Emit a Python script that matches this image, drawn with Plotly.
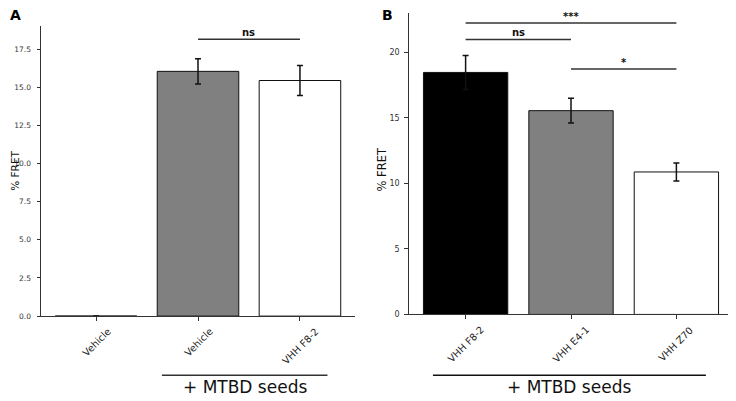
import plotly.graph_objects as go

# Panel A data
a_labels = ["Vehicle", "Vehicle", "VHH F8-2"]
a_vals = [0.0, 16.05, 15.45]
a_errs = [0.0, 0.82, 0.99]
a_colors = ["white", "#808080", "white"]
a_ticks = [0.0, 2.5, 5.0, 7.5, 10.0, 12.5, 15.0, 17.5]

# Panel B data
b_cats = ["VHH F8-2", "VHH E4-1", "VHH Z70"]
b_vals = [18.48, 15.56, 10.88]
b_errs = [1.3, 0.95, 0.69]
b_colors = ["black", "#808080", "white"]
b_ticks = [0, 5, 10, 15, 20]

# significance brackets: (x0, x1, y, text)
sig_a = [(1, 2, 18.15, "ns")]
sig_b = [(0, 1, 21.0, "ns"), (0, 2, 22.25, "***"), (1, 2, 18.75, "*")]

FONT = "DejaVu Sans"
W, H = 736, 401
OFF = 8  # page body margin offset


def px(x):
    return (x - OFF) / W


def py(y):
    return (H - (y - OFF)) / H


fig = go.Figure()

fig.add_trace(go.Bar(
    x=[0, 1, 2], y=a_vals, width=0.8,
    marker=dict(color=a_colors, line=dict(color="#111", width=1)),
    error_y=dict(type="data", array=a_errs, color="#111", thickness=1.5, width=3),
    xaxis="x", yaxis="y", showlegend=False))

fig.add_trace(go.Bar(
    x=[0, 1, 2], y=b_vals, width=0.8,
    marker=dict(color=b_colors, line=dict(color="#111", width=1)),
    error_y=dict(type="data", array=b_errs, color="#111", thickness=1.5, width=3),
    xaxis="x2", yaxis="y2", showlegend=False))

axis_common = dict(showline=True, linecolor="#333", linewidth=1, ticks="outside",
                   ticklen=3.5, tickcolor="#333", tickwidth=1, showgrid=False,
                   zeroline=False, mirror=False)

fig.update_layout(
    width=W, height=H, margin=dict(l=0, r=0, t=0, b=0),
    paper_bgcolor="white", plot_bgcolor="white",
    font=dict(family=FONT),
    xaxis=dict(domain=[px(41), px(355)], range=[-0.54, 2.54], anchor="y",
               tickmode="array", tickvals=[0, 1, 2], showticklabels=False,
               **axis_common),
    yaxis=dict(domain=[py(320), py(26)], range=[0, 19.04], anchor="x",
               tickmode="array", tickvals=a_ticks, ticklabelstandoff=4,
               ticktext=[f"{t:.1f}" for t in a_ticks],
               tickfont=dict(family=FONT, size=7.5, color="#333"), **axis_common),
    xaxis2=dict(domain=[px(408.7), px(733.3)], range=[-0.54, 2.54], anchor="y2",
                tickmode="array", tickvals=[0, 1, 2], showticklabels=False,
                **axis_common),
    yaxis2=dict(domain=[py(318.3), py(13.3)], range=[0, 23.0], anchor="x2",
                tickmode="array", tickvals=b_ticks, ticklabelstandoff=3,
                ticktext=[str(t) for t in b_ticks],
                tickfont=dict(family=FONT, size=8, color="#333"), **axis_common),
)

shapes = []
annots = []

# rotated category labels, centred under their ticks
for i, lab in enumerate(a_labels):
    annots.append(dict(xref="x", yref="paper", x=i, y=py(327), text=lab,
                       textangle=-45, showarrow=False, xanchor="center", yanchor="top",
                       font=dict(family=FONT, size=9.8, color="#222")))
for i, lab in enumerate(b_cats):
    annots.append(dict(xref="x2", yref="paper", x=i, y=py(325.5), text=lab,
                       textangle=-45, showarrow=False, xanchor="center", yanchor="top",
                       font=dict(family=FONT, size=9.8, color="#222")))

for (x0, x1, y, t) in sig_a:
    shapes.append(dict(type="line", xref="x", yref="y", x0=x0, x1=x1, y0=y, y1=y,
                       line=dict(color="#333", width=1.5)))
    annots.append(dict(xref="x", yref="y", x=(x0 + x1) / 2, y=y, text=f"<b>{t}</b>",
                       showarrow=False, yanchor="bottom", xanchor="center", yshift=-1,
                       font=dict(family=FONT, size=10, color="#111")))
for (x0, x1, y, t) in sig_b:
    shapes.append(dict(type="line", xref="x2", yref="y2", x0=x0, x1=x1, y0=y, y1=y,
                       line=dict(color="#333", width=1.5)))
    annots.append(dict(xref="x2", yref="y2", x=(x0 + x1) / 2, y=y, text=f"<b>{t}</b>",
                       showarrow=False, yanchor="bottom", xanchor="center", yshift=-1,
                       font=dict(family=FONT, size=10, color="#111")))

# "+ MTBD seeds" brackets
shapes.append(dict(type="line", xref="x", yref="paper", x0=0.646, x1=2.27,
                   y0=py(380), y1=py(380), line=dict(color="#333", width=1.5)))
shapes.append(dict(type="line", xref="x2", yref="paper", x0=-0.31, x1=2.28,
                   y0=py(380), y1=py(380), line=dict(color="#111", width=1.5)))
annots.append(dict(xref="x", yref="paper", x=1.46, y=py(392), text="+ MTBD seeds",
                   showarrow=False, yanchor="middle", xanchor="center",
                   font=dict(family=FONT, size=17, color="#111")))
annots.append(dict(xref="x2", yref="paper", x=0.985, y=py(392), text="+ MTBD seeds",
                   showarrow=False, yanchor="middle", xanchor="center",
                   font=dict(family=FONT, size=17, color="#111")))

# y-axis titles
annots.append(dict(xref="paper", yref="paper", x=px(14.8), y=py(173), text="% FRET",
                   textangle=-90, showarrow=False, xanchor="center", yanchor="middle",
                   font=dict(family=FONT, size=10.5, color="#111")))
annots.append(dict(xref="paper", yref="paper", x=px(382), y=py(171.5), text="% FRET",
                   textangle=-90, showarrow=False, xanchor="center", yanchor="middle",
                   font=dict(family=FONT, size=11.5, color="#111")))

# panel letters
annots.append(dict(xref="paper", yref="paper", x=px(8), y=py(15), text="<b>A</b>",
                   showarrow=False, xanchor="left", yanchor="middle",
                   font=dict(family=FONT, size=14, color="black")))
annots.append(dict(xref="paper", yref="paper", x=px(387), y=py(15), text="<b>B</b>",
                   showarrow=False, xanchor="center", yanchor="middle",
                   font=dict(family=FONT, size=14, color="black")))

fig.update_layout(shapes=shapes, annotations=annots)
fig.write_html("out.html")
